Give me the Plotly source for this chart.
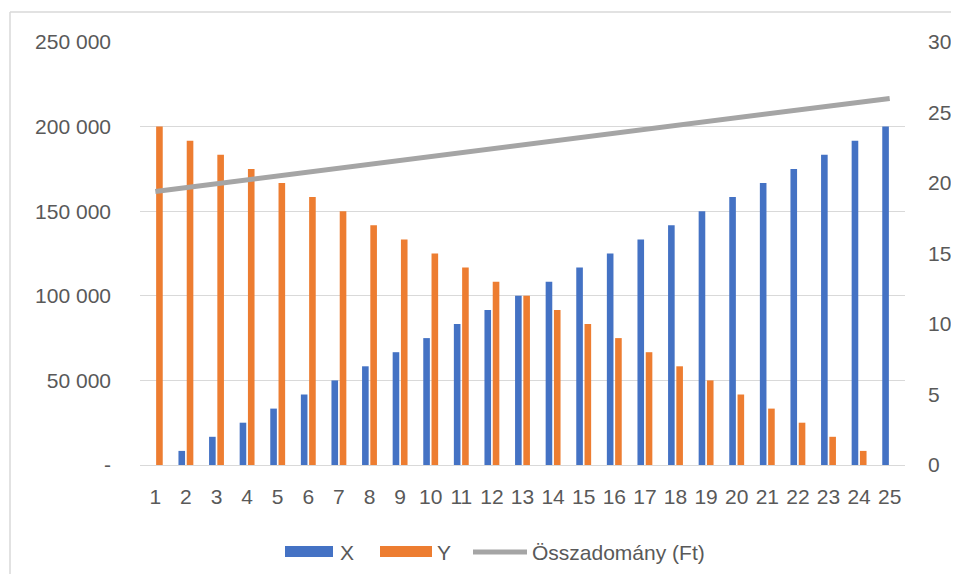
import plotly.graph_objects as go

categories = [str(i) for i in range(1, 26)]
x_values = [0, 8333, 16667, 25000, 33333, 41667, 50000, 58333, 66667, 75000,
            83333, 91667, 100000, 108333, 116667, 125000, 133333, 141667, 150000,
            158333, 166667, 175000, 183333, 191667, 200000]
y_values = [200000, 191667, 183333, 175000, 166667, 158333, 150000, 141667, 133333,
            125000, 116667, 108333, 100000, 91667, 83333, 75000, 66667, 58333, 50000,
            41667, 33333, 25000, 16667, 8333, 0]
line_values = [19.4, 19.675, 19.95, 20.225, 20.5, 20.775, 21.05, 21.325, 21.6, 21.875,
               22.15, 22.425, 22.7, 22.975, 23.25, 23.525, 23.8, 24.075, 24.35, 24.625,
               24.9, 25.175, 25.45, 25.725, 26.0]
left_ticks = [0, 50000, 100000, 150000, 200000, 250000]
left_ticktext = ["-", "50 000", "100 000", "150 000", "200 000", "250 000"]
right_ticks = [0, 5, 10, 15, 20, 25, 30]
series_names = ["X", "Y", "Összadomány (Ft)"]
series_colors = ["#4472C4", "#ED7D31", "#A5A5A5"]

FONT = "Liberation Sans"
TXT = "#595959"
FS = 21

# page has an 8px body margin; figure sized to fit the window
W, H = 951, 566
L, R, T, B = 132, 54, 34, 109
PW, PH = W - L - R, H - T - B


def px(xpage):
    return (xpage - 8 - L) / PW


def py(ypage):
    return (H - B - (ypage - 8)) / PH


fig = go.Figure()
fig.add_trace(go.Bar(x=categories, y=x_values, name=series_names[0],
                     marker_color=series_colors[0], marker_line_width=0))
fig.add_trace(go.Bar(x=categories, y=y_values, name=series_names[1],
                     marker_color=series_colors[1], marker_line_width=0))
fig.add_trace(go.Scatter(x=categories, y=line_values, name=series_names[2],
                         mode="lines", line=dict(color=series_colors[2], width=5),
                         yaxis="y2"))

shapes = [
    dict(type="line", xref="paper", yref="paper", x0=px(10), x1=px(10),
         y0=py(12), y1=py(600), line=dict(color="#D9D9D9", width=1.5)),
    dict(type="line", xref="paper", yref="paper", x0=px(10), x1=px(980),
         y0=py(12), y1=py(12), line=dict(color="#D9D9D9", width=1.5)),
    # legend keys
    dict(type="rect", xref="paper", yref="paper", x0=px(285), x1=px(333),
         y0=py(557), y1=py(546), fillcolor=series_colors[0], line=dict(width=0)),
    dict(type="rect", xref="paper", yref="paper", x0=px(380), x1=px(432),
         y0=py(557), y1=py(546), fillcolor=series_colors[1], line=dict(width=0)),
    dict(type="line", xref="paper", yref="paper", x0=px(473), x1=px(527),
         y0=py(552), y1=py(552), line=dict(color=series_colors[2], width=5)),
]
annotations = [
    dict(xref="paper", yref="paper", x=px(338), y=py(552), text=series_names[0],
         showarrow=False, xanchor="left", yanchor="middle",
         font=dict(family=FONT, size=FS, color=TXT)),
    dict(xref="paper", yref="paper", x=px(435), y=py(552), text=series_names[1],
         showarrow=False, xanchor="left", yanchor="middle",
         font=dict(family=FONT, size=FS, color=TXT)),
    dict(xref="paper", yref="paper", x=px(530), y=py(552), text=series_names[2],
         showarrow=False, xanchor="left", yanchor="middle",
         font=dict(family=FONT, size=FS, color=TXT)),
]

fig.update_layout(
    width=W, height=H,
    margin=dict(l=L, r=R, t=T, b=B),
    paper_bgcolor="white", plot_bgcolor="white",
    barmode="group", bargap=0.46, bargroupgap=0.2,
    font=dict(family=FONT, size=FS, color=TXT),
    showlegend=False,
    xaxis=dict(type="category", showgrid=False, showline=True, linecolor="#D9D9D9",
               linewidth=1, ticks="", ticklabelstandoff=13, automargin=False,
               tickfont=dict(size=FS, color=TXT)),
    yaxis=dict(range=[0, 250000], tickvals=left_ticks, ticktext=left_ticktext,
               showgrid=True, gridcolor="#D9D9D9", gridwidth=1, zeroline=False,
               showline=False, ticks="", ticklabelstandoff=28, automargin=False,
               tickfont=dict(size=FS, color=TXT)),
    yaxis2=dict(range=[0, 30], tickvals=right_ticks, overlaying="y", side="right",
                showgrid=False, zeroline=False, showline=False, ticks="",
                ticklabelstandoff=22, automargin=False,
                tickfont=dict(size=FS, color=TXT)),
    shapes=shapes,
    annotations=annotations,
)

fig.write_html("out.html")
